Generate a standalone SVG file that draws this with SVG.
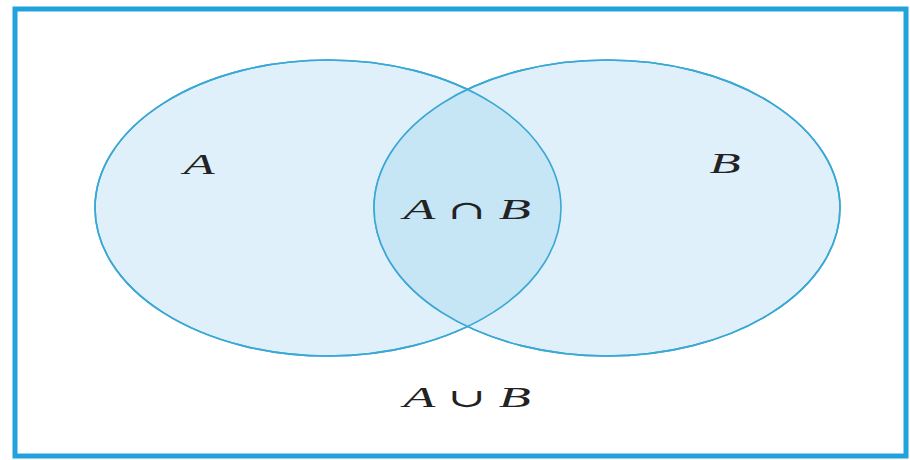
<svg xmlns="http://www.w3.org/2000/svg" width="910" height="460" viewBox="0 0 910 460">
<style>
.set{fill:#dff0fa;stroke:#3aa8d4;stroke-width:1.6}
.lbl{font-family:"Liberation Serif",serif;font-style:italic;font-size:30px;fill:#222;text-anchor:middle}
.op{font-style:normal;font-family:"DejaVu Serif","Liberation Serif",serif;font-size:26px}
</style>
<defs>
<clipPath id="clipA"><ellipse cx="328" cy="208" rx="233" ry="148"/></clipPath>
</defs>
<rect x="0" y="0" width="910" height="460" fill="#ffffff"/>
<rect id="frame" x="15" y="9" width="891" height="447" fill="#ffffff" stroke="#22a2dc" stroke-width="5"/>
<g id="setA">
<ellipse class="set" cx="328" cy="208" rx="233" ry="148"/>
</g>
<g id="setB">
<ellipse class="set" cx="607" cy="208" rx="233" ry="148"/>
</g>
<g id="intersection">
<ellipse cx="607" cy="208" rx="233" ry="148" fill="#c6e5f5" clip-path="url(#clipA)"/>
<ellipse cx="328" cy="208" rx="233" ry="148" fill="none" stroke="#3aa8d4" stroke-width="1.6"/>
<ellipse cx="607" cy="208" rx="233" ry="148" fill="none" stroke="#3aa8d4" stroke-width="1.6"/>
</g>
<g id="labels">
<text class="lbl" transform="translate(199,174) scale(1.7,1)">A</text>
<text class="lbl" transform="translate(725,173) scale(1.7,1)">B</text>
<text class="lbl" transform="translate(467,219) scale(1.75,1)">A <tspan class="op">∩</tspan> B</text>
<text class="lbl" transform="translate(467,407) scale(1.75,1)">A <tspan class="op">∪</tspan> B</text>
</g>
</svg>
